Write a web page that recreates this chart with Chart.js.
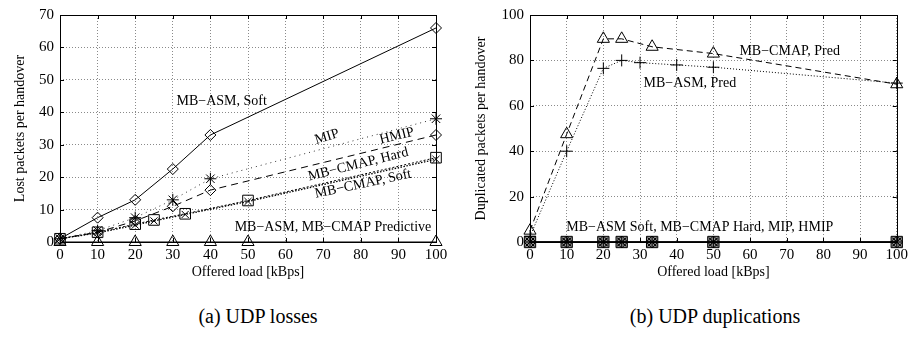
<!DOCTYPE html>
<html><head><meta charset="utf-8">
<script src="https://cdn.jsdelivr.net/npm/chart.js@4/dist/chart.umd.min.js"></script>
<style>
html,body{margin:0;padding:0;background:#fff;width:912px;height:342px;overflow:hidden}
canvas{position:absolute;top:0}
#cA{left:0}
#cB{left:456px}
.cap{position:absolute;top:305px;font-family:"Liberation Serif",serif;font-size:20px;color:#000;white-space:nowrap;transform:translateX(-50%)}
</style></head><body>
<canvas id="cA" width="456" height="290"></canvas>
<canvas id="cB" width="456" height="290"></canvas>
<div class="cap" style="left:258px">(a) UDP losses</div>
<div class="cap" style="left:715px">(b) UDP duplications</div>
<script>
// ---------- data: (a) UDP losses ----------
const xAsmSoftA = [0, 10, 20, 30, 40, 100];
const yAsmSoftA = [1, 7.5, 13, 22.5, 33, 66];
const xMipA = [0, 10, 20, 30, 40, 100];
const yMipA = [1, 3.5, 7.5, 13, 19.5, 38];
const xHmipA = [0, 10, 20, 30, 40, 100];
const yHmipA = [1, 3, 6.5, 11, 16, 33];
const xCmapA = [0, 10, 20, 25, 33.3, 50, 100];
const yCmapHardA = [1, 3, 5.5, 6.8, 8.7, 12.8, 26];
const yCmapSoftA = [1, 2.8, 5.2, 6.5, 8.5, 12.5, 25.5];
const xPredA = [0, 10, 20, 30, 40, 50, 100];
const yPredA = [0, 0, 0, 0, 0, 0, 0];
const yTicksA = [0, 10, 20, 30, 40, 50, 60, 70];

// ---------- data: (b) UDP duplications ----------
const xCmapPredB = [0, 10, 20, 25, 33.3, 50, 100];
const yCmapPredB = [5, 47.5, 89.5, 89.5, 86, 83, 69.5];
const xAsmPredB = [0, 10, 20, 25, 30, 40, 50, 100];
const yAsmPredB = [2.5, 40, 76.5, 80, 79, 78, 77, 70];
const xZeroB = [0, 10, 20, 25, 33.3, 50, 100];
const yZeroB = [0, 0, 0, 0, 0, 0, 0];
const yTicksB = [0, 20, 40, 60, 80, 100];
const xTicks = [0, 10, 20, 30, 40, 50, 60, 70, 80, 90, 100];

const FONT = '"Liberation Serif", "Times New Roman", serif';
const pts = (xs, ys) => xs.map((x, i) => ({x: x, y: ys[i]}));

function ds(label, xs, ys, o) {
  return Object.assign({
    label: label, data: pts(xs, ys), borderColor: '#000', borderWidth: 1,
    backgroundColor: 'rgba(0,0,0,0)', pointBackgroundColor: 'rgba(0,0,0,0)',
    pointBorderColor: '#000', pointBorderWidth: 1, tension: 0, clip: false
  }, o);
}

const framePlugin = {
  id: 'frame',
  beforeDatasetsDraw(chart) {
    const {ctx, chartArea: a, scales: {x, y}} = chart;
    ctx.save();
    ctx.strokeStyle = '#000'; ctx.lineWidth = 1; ctx.setLineDash([]);
    ctx.beginPath();
    x.ticks.forEach(t => {
      const px = Math.round(x.getPixelForValue(t.value)) + 0.5;
      ctx.moveTo(px, a.bottom); ctx.lineTo(px, a.bottom - 4);
      ctx.moveTo(px, a.top); ctx.lineTo(px, a.top + 4);
    });
    y.ticks.forEach(t => {
      const py = Math.round(y.getPixelForValue(t.value)) + 0.5;
      ctx.moveTo(a.left, py); ctx.lineTo(a.left + 4, py);
      ctx.moveTo(a.right, py); ctx.lineTo(a.right - 4, py);
    });
    ctx.stroke();
    ctx.strokeRect(Math.round(a.left) + 0.5, Math.round(a.top) + 0.5, Math.round(a.width), Math.round(a.height));
    ctx.restore();
  }
};

function labelPlugin(list) {
  return {
    id: 'lbls',
    afterDatasetsDraw(chart) {
      const {ctx, scales: {x, y}} = chart;
      ctx.save();
      ctx.fillStyle = '#000';
      ctx.font = '14px ' + FONT;
      ctx.textAlign = 'center'; ctx.textBaseline = 'middle';
      list.forEach(l => {
        ctx.save();
        ctx.translate(x.getPixelForValue(l.x), y.getPixelForValue(l.y));
        ctx.rotate((l.rot || 0) * Math.PI / 180);
        ctx.fillText(l.text, 0, 0);
        ctx.restore();
      });
      ctx.restore();
    }
  };
}

function makeOpts(ymax, yticks, ytitle, yw, yTitlePad, rightPad) {
  return {
    responsive: false, animation: false, devicePixelRatio: 1,
    layout: {padding: {top: 11, right: rightPad, left: 0, bottom: 0}},
    plugins: {legend: {display: false}, tooltip: {enabled: false}},
    scales: {
      x: {
        type: 'linear', min: 0, max: 100,
        afterBuildTicks: s => { s.ticks = xTicks.map(v => ({value: v})); },
        afterFit: s => { s.height = 48; },
        ticks: {autoSkip: false, maxRotation: 0, color: '#000', font: {family: FONT, size: 15}, padding: 4},
        grid: {color: '#8a8a8a', lineWidth: 1, drawTicks: false},
        border: {display: false, dash: [1, 2]},
        title: {display: true, text: 'Offered load [kBps]', color: '#000', font: {family: FONT, size: 14}, padding: {top: 0, bottom: 9}}
      },
      y: {
        type: 'linear', min: 0, max: ymax,
        afterBuildTicks: s => { s.ticks = yticks.map(v => ({value: v})); },
        afterFit: s => { s.width = yw; },
        ticks: {autoSkip: false, color: '#000', font: {family: FONT, size: 15}, padding: 6},
        grid: {color: '#8a8a8a', lineWidth: 1, drawTicks: false},
        border: {display: false, dash: [1, 2]},
        title: {display: true, text: ytitle, color: '#000', font: {family: FONT, size: 14}, padding: {top: yTitlePad, bottom: 0}}
      }
    }
  };
}

// ---------- chart (a) ----------
new Chart(document.getElementById('cA'), {
  type: 'line',
  data: {datasets: [
    ds('MB-ASM, MB-CMAP Predictive', xPredA, yPredA, {pointStyle: 'triangle', pointRadius: 7}),
    ds('MB-CMAP, Soft', xCmapA, yCmapSoftA, {borderDash: [1.5, 1.5], borderWidth: 1.3, pointStyle: 'crossRot', pointRadius: 5}),
    ds('MB-CMAP, Hard', xCmapA, yCmapHardA, {borderDash: [2, 2], pointStyle: 'rect', pointRadius: 7.5}),
    ds('HMIP', xHmipA, yHmipA, {borderDash: [7, 5], pointStyle: 'rectRot', pointRadius: 5.5}),
    ds('MIP', xMipA, yMipA, {borderDash: [1, 4], borderColor: '#333', pointStyle: 'star', pointRadius: 6}),
    ds('MB-ASM, Soft', xAsmSoftA, yAsmSoftA, {pointStyle: 'rectRot', pointRadius: 5.5})
  ]},
  options: makeOpts(70, yTicksA, 'Lost packets per handover', 60, 12, 20),
  plugins: [framePlugin, labelPlugin([
    {text: 'MB\u2212ASM, Soft', x: 43, y: 43.5, rot: 0},
    {text: 'MIP', x: 71, y: 32.4, rot: -17},
    {text: 'HMIP', x: 89.6, y: 32.7, rot: -14},
    {text: 'MB\u2212CMAP, Hard', x: 79.3, y: 23.9, rot: -14},
    {text: 'MB\u2212CMAP, Soft', x: 80.6, y: 17.9, rot: -12},
    {text: 'MB\u2212ASM, MB\u2212CMAP Predictive', x: 72.6, y: 4.5, rot: 0}
  ])]
});

// ---------- chart (b) ----------
new Chart(document.getElementById('cB'), {
  type: 'line',
  data: {datasets: [
    ds('MB-CMAP Hard', xZeroB, yZeroB, {pointStyle: 'rect', pointRadius: 8, pointBackgroundColor: 'rgba(0,0,0,0.45)'}),
    ds('HMIP', xZeroB, yZeroB, {pointStyle: 'crossRot', pointRadius: 6}),
    ds('MIP', xZeroB, yZeroB, {pointStyle: 'star', pointRadius: 6}),
    ds('MB-ASM Soft', xZeroB, yZeroB, {pointStyle: 'rectRot', pointRadius: 6}),
    ds('MB-ASM, Pred', xAsmPredB, yAsmPredB, {borderDash: [1, 2], pointStyle: 'cross', pointRadius: 6}),
    ds('MB-CMAP, Pred', xCmapPredB, yCmapPredB, {borderDash: [6, 4], pointStyle: 'triangle', pointRadius: 7})
  ]},
  options: makeOpts(100, yTicksB, 'Duplicated packets per handover', 74, 17, 14),
  plugins: [framePlugin, labelPlugin([
    {text: 'MB\u2212CMAP, Pred', x: 70.8, y: 84, rot: 0},
    {text: 'MB\u2212ASM, Pred', x: 43.6, y: 70, rot: 0},
    {text: 'MB\u2212ASM Soft, MB\u2212CMAP Hard, MIP, HMIP', x: 46.3, y: 6.5, rot: 0}
  ])]
});
</script>
</body></html>
